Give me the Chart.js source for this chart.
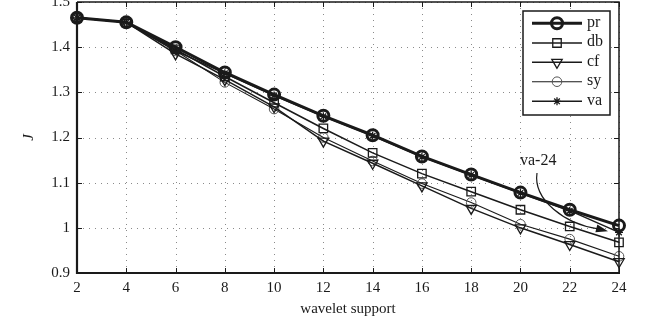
<!DOCTYPE html>
<html><head><meta charset="utf-8">
<script src="https://cdn.jsdelivr.net/npm/chart.js@4/dist/chart.umd.min.js"></script>
<style>html,body{margin:0;padding:0;background:#fff}#wrap{width:651px;height:322px}</style>
</head><body><div id="wrap"><canvas id="c" width="651" height="322"></canvas></div>
<script>
const supports = [2, 4, 6, 8, 10, 12, 14, 16, 18, 20, 22, 24];
const seriesNames = ['pr', 'db', 'cf', 'sy', 'va'];
const pr = [1.465, 1.455, 1.400, 1.344, 1.295, 1.248, 1.205, 1.158, 1.118, 1.078, 1.040, 1.005];
const db = [1.465, 1.455, 1.395, 1.335, 1.277, 1.220, 1.166, 1.120, 1.080, 1.040, 1.003, 0.968];
const cf = [1.465, 1.455, 1.385, 1.328, 1.268, 1.192, 1.143, 1.093, 1.043, 1.000, 0.963, 0.925];
const sy = [1.465, 1.455, 1.392, 1.322, 1.263, 1.200, 1.148, 1.098, 1.056, 1.008, 0.975, 0.937];
const va = [1.465, 1.455, 1.392, 1.342, 1.293, 1.247, 1.204, 1.157, 1.117, 1.077, 1.038, 0.990];
const yTicks = [0.9, 1.0, 1.1, 1.2, 1.3, 1.4, 1.5];
const xLabel = 'wavelet support';
const yLabel = 'J';
const annotationText = 'va-24';

const FONT = '"Liberation Serif", "Times New Roman", serif';
const INK = '#1a1a1a';

const styles = {
  pr: {lw: 3, pt: 'circle', r: 5.5, bw: 3, color: INK},
  db: {lw: 1.5, pt: 'rect', r: 6, bw: 1.3, color: INK},
  cf: {lw: 1.5, pt: 'triangle', r: 6, bw: 1.3, color: INK, rot: 180},
  sy: {lw: 1.1, pt: 'circle', r: 4.8, bw: 1, color: INK, pointColor: '#555'},
  va: {lw: 1.5, pt: 'star', r: 4, bw: 1.3, color: INK}
};
const values = {pr, db, cf, sy, va};

const datasets = seriesNames.map(n => {
  const s = styles[n];
  return {
    label: n,
    data: supports.map((x, i) => ({x, y: values[n][i]})),
    borderColor: s.color,
    borderWidth: s.lw,
    pointStyle: s.pt,
    pointRadius: s.r,
    pointRotation: s.rot || 0,
    pointBorderWidth: s.bw,
    pointBorderColor: s.pointColor || s.color,
    pointBackgroundColor: 'rgba(0,0,0,0)',
    fill: false,
    tension: 0,
    clip: false
  };
});

function marker(ctx, style, x, y) {
  const s = styles[style];
  ctx.save();
  ctx.strokeStyle = s.pointColor || s.color;
  ctx.lineWidth = s.bw;
  ctx.beginPath();
  const r = s.r;
  if (s.pt === 'circle') {
    ctx.arc(x, y, r, 0, Math.PI * 2);
  } else if (s.pt === 'rect') {
    const h = r * Math.SQRT1_2;
    ctx.rect(x - h, y - h, 2 * h, 2 * h);
  } else if (s.pt === 'triangle') {
    let a = Math.PI;
    ctx.moveTo(x + Math.sin(a) * r, y - Math.cos(a) * r);
    a += 2 * Math.PI / 3;
    ctx.lineTo(x + Math.sin(a) * r, y - Math.cos(a) * r);
    a += 2 * Math.PI / 3;
    ctx.lineTo(x + Math.sin(a) * r, y - Math.cos(a) * r);
    ctx.closePath();
  } else if (s.pt === 'star') {
    for (let k = 0; k < 4; k++) {
      const a = k * Math.PI / 4;
      ctx.moveTo(x - Math.cos(a) * r, y - Math.sin(a) * r);
      ctx.lineTo(x + Math.cos(a) * r, y + Math.sin(a) * r);
    }
  }
  ctx.stroke();
  ctx.restore();
}

const framePlugin = {
  id: 'frame',
  beforeDatasetsDraw(chart) {
    const {ctx, chartArea: a, scales: {x, y}} = chart;
    ctx.save();
    ctx.strokeStyle = '#8a8a8a';
    ctx.lineWidth = 1;
    ctx.setLineDash([1, 5]);
    supports.forEach(v => {
      const px = Math.round(x.getPixelForValue(v)) + 0.5;
      ctx.beginPath(); ctx.moveTo(px, a.top); ctx.lineTo(px, a.bottom); ctx.stroke();
    });
    yTicks.forEach(v => {
      const py = Math.round(y.getPixelForValue(v)) + 0.5;
      ctx.beginPath(); ctx.moveTo(a.left, py); ctx.lineTo(a.right, py); ctx.stroke();
    });
    ctx.restore();
  },
  afterDatasetsDraw(chart) {
    const {ctx, chartArea: a, scales: {x, y}} = chart;
    ctx.save();
    ctx.strokeStyle = INK;
    ctx.lineWidth = 1;
    const tl = 5;
    supports.forEach(v => {
      const px = Math.round(x.getPixelForValue(v)) + 0.5;
      ctx.beginPath();
      ctx.moveTo(px, a.bottom); ctx.lineTo(px, a.bottom - tl);
      ctx.moveTo(px, a.top); ctx.lineTo(px, a.top + tl);
      ctx.stroke();
    });
    yTicks.forEach(v => {
      const py = Math.round(y.getPixelForValue(v)) + 0.5;
      ctx.beginPath();
      ctx.moveTo(a.left, py); ctx.lineTo(a.left + tl, py);
      ctx.moveTo(a.right, py); ctx.lineTo(a.right - tl, py);
      ctx.stroke();
    });
    ctx.lineWidth = 1.5;
    ctx.beginPath();
    ctx.moveTo(a.left, a.top); ctx.lineTo(a.right, a.top); ctx.lineTo(a.right, a.bottom);
    ctx.stroke();
    ctx.lineWidth = 2.2;
    ctx.beginPath();
    ctx.moveTo(a.left, a.top); ctx.lineTo(a.left, a.bottom); ctx.lineTo(a.right + 1, a.bottom);
    ctx.stroke();

    // legend
    const lx = 523, ly = 11, lw = 87, lh = 104;
    ctx.fillStyle = '#fff';
    ctx.fillRect(lx, ly, lw, lh);
    ctx.strokeStyle = INK;
    ctx.lineWidth = 1.5;
    ctx.strokeRect(lx, ly, lw, lh);
    const rowY = [23.3, 43, 62.3, 81.7, 101.3];
    ctx.font = '16px ' + FONT;
    ctx.textBaseline = 'middle';
    ctx.textAlign = 'left';
    seriesNames.forEach((n, i) => {
      const s = styles[n];
      ctx.strokeStyle = s.color;
      ctx.lineWidth = s.lw;
      ctx.beginPath(); ctx.moveTo(532, rowY[i]); ctx.lineTo(582, rowY[i]); ctx.stroke();
      marker(ctx, n, 557, rowY[i]);
      ctx.fillStyle = INK;
      ctx.fillText(n, 587, rowY[i] - 1);
    });

    // annotation
    const tipPx = x.getPixelForValue(supports[supports.length - 1]);
    const tipPy = y.getPixelForValue(va[va.length - 1]);
    const tx = tipPx - 11, ty = tipPy - 1;
    ctx.fillStyle = INK;
    ctx.textAlign = 'left';
    ctx.font = '16px ' + FONT;
    ctx.fillText(annotationText, 520, 161);
    ctx.strokeStyle = INK;
    ctx.lineWidth = 1.2;
    ctx.beginPath();
    ctx.moveTo(537, 173);
    ctx.bezierCurveTo(533, 200, 565, 224, tx - 10, ty - 2.5);
    ctx.stroke();
    const ang = Math.atan2(3, 12);
    ctx.beginPath();
    ctx.moveTo(tx, ty);
    ctx.lineTo(tx - 12 * Math.cos(ang) + 4 * Math.sin(ang), ty - 12 * Math.sin(ang) - 4 * Math.cos(ang));
    ctx.lineTo(tx - 12 * Math.cos(ang) - 4 * Math.sin(ang), ty - 12 * Math.sin(ang) + 4 * Math.cos(ang));
    ctx.closePath();
    ctx.fill();
    ctx.restore();
  }
};

new Chart(document.getElementById('c'), {
  type: 'line',
  data: {datasets},
  options: {
    responsive: false,
    animation: false,
    devicePixelRatio: 1,
    layout: {autoPadding: false, padding: {top: 2, right: 32, left: 0, bottom: 0}},
    plugins: {legend: {display: false}, tooltip: {enabled: false}},
    scales: {
      x: {
        type: 'linear', min: 2, max: 24,
        afterFit(s) { s.height = 49; s.paddingLeft = 0; s.paddingRight = 0; },
        afterBuildTicks(s) { s.ticks = supports.map(v => ({value: v})); },
        grid: {display: false, drawTicks: false},
        border: {display: false},
        ticks: {color: INK, font: {family: FONT, size: 15}, padding: 6, maxRotation: 0, autoSkip: false},
        title: {display: true, text: xLabel, color: INK, font: {family: FONT, size: 15}, padding: {top: 0, bottom: 4}}
      },
      y: {
        min: 0.9, max: 1.5,
        afterFit(s) { s.width = 77; s.paddingTop = 0; s.paddingBottom = 0; },
        afterBuildTicks(s) { s.ticks = yTicks.map(v => ({value: v})); },
        grid: {display: false, drawTicks: false},
        border: {display: false},
        ticks: {color: INK, font: {family: FONT, size: 15}, padding: 7,
          callback: v => String(Number(v.toFixed(1)))},
        title: {display: true, text: yLabel, color: INK, font: {family: FONT, size: 15, style: 'italic'}, padding: {top: 20, bottom: 0}}
      }
    }
  },
  plugins: [framePlugin]
});
</script>
</body></html>
